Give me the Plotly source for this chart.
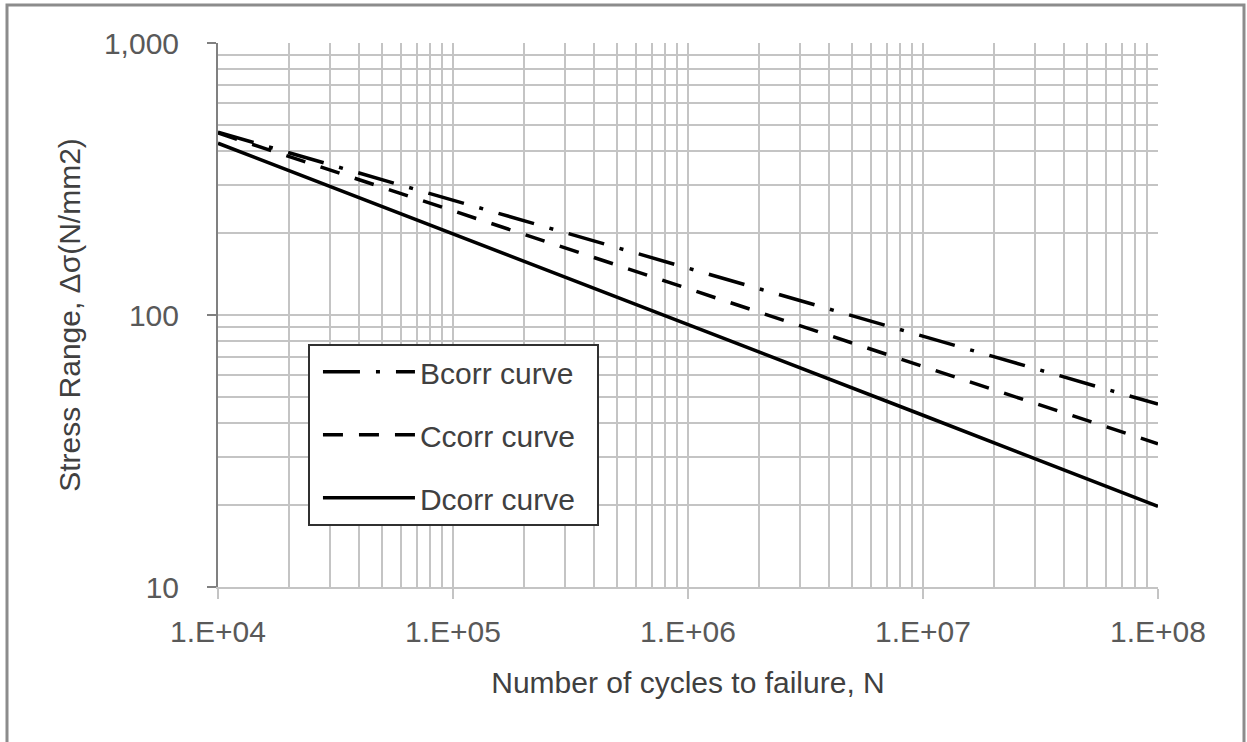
import plotly.graph_objects as go

# Data
n_cycles = [1e4, 1e5, 1e6, 1e7, 1e8]
bcorr = [470, 264, 149, 83.6, 47.0]
ccorr = [467, 241, 125, 64.7, 33.6]
dcorr = [428, 199, 92.2, 42.8, 19.8]

series_names = ["Bcorr curve", "Ccorr curve", "Dcorr curve"]

x_tick_vals = [1e4, 1e5, 1e6, 1e7, 1e8]
x_tick_text = ["1.E+04", "1.E+05", "1.E+06", "1.E+07", "1.E+08"]
y_tick_vals = [10, 100, 1000]
y_tick_text = ["10", "100", "1,000"]

x_minor = [m * 10 ** e for e in range(4, 8) for m in range(2, 10)]
y_minor = [m * 10 ** e for e in range(1, 3) for m in range(2, 10)]

FONT = "Liberation Sans, Arial, sans-serif"
GRID = "#c4c4c4"

fig = go.Figure()
styles = [
    dict(dash="37px,16px,4px,16px"),
    dict(dash="20px,16px"),
    dict(dash="solid"),
]
for name, vals, st in zip(series_names, [bcorr, ccorr, dcorr], styles):
    fig.add_trace(go.Scatter(
        x=n_cycles, y=vals, mode="lines", name=name + "\u00a0\u00a0", legendgroup=name,
        line=dict(color="black", width=3.5, dash=st["dash"]),
    ))

fig.update_layout(
    width=1247, height=742,
    margin=dict(l=218, r=89, t=43, b=155, autoexpand=False),
    paper_bgcolor="white", plot_bgcolor="white",
    font=dict(family=FONT, size=30, color="#595959"),
    showlegend=True,
    legend=dict(
        x=0.0957, y=0.447, xanchor="left", yanchor="top",
        bgcolor="white", bordercolor="#303030", borderwidth=2,
        font=dict(family=FONT, size=30, color="#404040"),
        itemwidth=92, tracegroupgap=21, indentation=8,
    ),
    xaxis=dict(
        type="log", range=[4, 8],
        tickvals=x_tick_vals, ticktext=x_tick_text,
        showgrid=True, gridcolor=GRID, gridwidth=2,
        minor=dict(tickvals=x_minor, showgrid=True, gridcolor=GRID, gridwidth=2, ticks=""),
        showline=True, linecolor=GRID, linewidth=2,
        ticks="outside", ticklen=10, tickwidth=2, tickcolor=GRID,
        ticklabelstandoff=7,
        tickfont=dict(size=30, color="#595959"),
        title=dict(text="Number of cycles to failure, N", standoff=25,
                   font=dict(size=30, color="#404040")),
        zeroline=False, automargin=False,
    ),
    yaxis=dict(
        type="log", range=[1, 3],
        tickvals=y_tick_vals, ticktext=y_tick_text,
        showgrid=True, gridcolor=GRID, gridwidth=2,
        minor=dict(tickvals=y_minor, showgrid=True, gridcolor=GRID, gridwidth=2, ticks=""),
        showline=True, linecolor="#808080", linewidth=2,
        ticks="outside", ticklen=9, tickwidth=2, tickcolor="#808080",
        ticklabelstandoff=22,
        tickfont=dict(size=30, color="#595959"),
        title=dict(text="Stress Range, Δσ(N/mm2)", standoff=14,
                   font=dict(size=30, color="#404040")),
        zeroline=False, automargin=False,
    ),
    shapes=[dict(
        type="rect", xref="paper", yref="paper",
        x0=(7 - 218) / 940, x1=(1244 - 218) / 940,
        y0=(587 - 760) / 544, y1=(587 - 5) / 544,
        line=dict(color="#8c8c8c", width=3), fillcolor="rgba(0,0,0,0)",
        layer="below",
    )],
)

fig.write_html("out.html", config={"displayModeBar": False},
               post_script="document.body.style.margin='0px';")
